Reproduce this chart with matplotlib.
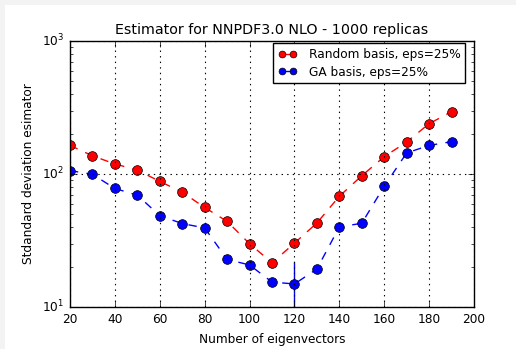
import matplotlib
matplotlib.use('Agg')
import matplotlib.pyplot as plt
from matplotlib.patches import Rectangle
import numpy as np

# number of eigenvectors
neig = [20, 30, 40, 50, 60, 70, 80, 90, 100, 110, 120, 130, 140, 150, 160, 170, 180, 190]

# estimator values
random_basis = [164, 137, 119, 107, 88, 73, 56, 44, 29.9, 21.5, 30.2, 42.8, 68, 97, 135, 174, 239, 294]
ga_basis = [106, 99.5, 77.8, 69.3, 48.6, 42.4, 39.3, 22.8, 20.7, 15.4, 14.9, 19.3, 40, 42.6, 80.9, 144, 164, 175]
ga_err = [0, 0, 0, 0, 0, 0, 0, 0, 0, 0, 6.8, 0, 0, 0, 0, 0, 0, 0]

plt.style.use('classic')
fig = plt.figure(figsize=(5.16, 3.49), dpi=100, facecolor='white')
# light frame on the top and left edges
fig.patches.append(Rectangle((0, 1 - 5 / 349), 1, 5 / 349, transform=fig.transFigure,
                             facecolor='#f3f3f3', edgecolor='none'))
fig.patches.append(Rectangle((0, 0), 5 / 516, 1, transform=fig.transFigure,
                             facecolor='#f3f3f3', edgecolor='none'))
ax = fig.add_axes([70 / 516, 1 - 307 / 349, 404 / 516, 266 / 349])

ax.plot(neig, random_basis, 'r--o', markersize=7, markeredgecolor='k', label='Random basis, eps=25%')
ax.errorbar(neig, ga_basis, yerr=ga_err, fmt='b--o', markersize=7, markeredgecolor='k',
            ecolor='b', capsize=0)
# legend entry for GA without the error bar glyph
ax.plot([], [], 'b--o', markersize=7, markeredgecolor='k', label='GA basis, eps=25%')

ax.set_yscale('log')
ax.set_xlim(20, 200)
ax.set_ylim(10, 1000)
ax.grid(True, which='major', color='k', linestyle=':', linewidth=0.8)
ax.tick_params(labelsize=8.7)
ax.set_xlabel('Number of eigenvectors', fontsize=8.7)
ax.set_ylabel('Stdandard deviation esimator', fontsize=8.7)
ax.set_title('Estimator for NNPDF3.0 NLO - 1000 replicas', fontsize=10.3)

ax.legend(loc='upper right', bbox_to_anchor=(0.978, 0.9925), borderaxespad=0,
          fontsize=8.7, numpoints=2, handlelength=1.5, handletextpad=1.0,
          markerscale=0.7, labelspacing=0.4, borderpad=0.4)

fig.savefig('out.png', dpi=100, facecolor=fig.get_facecolor())
